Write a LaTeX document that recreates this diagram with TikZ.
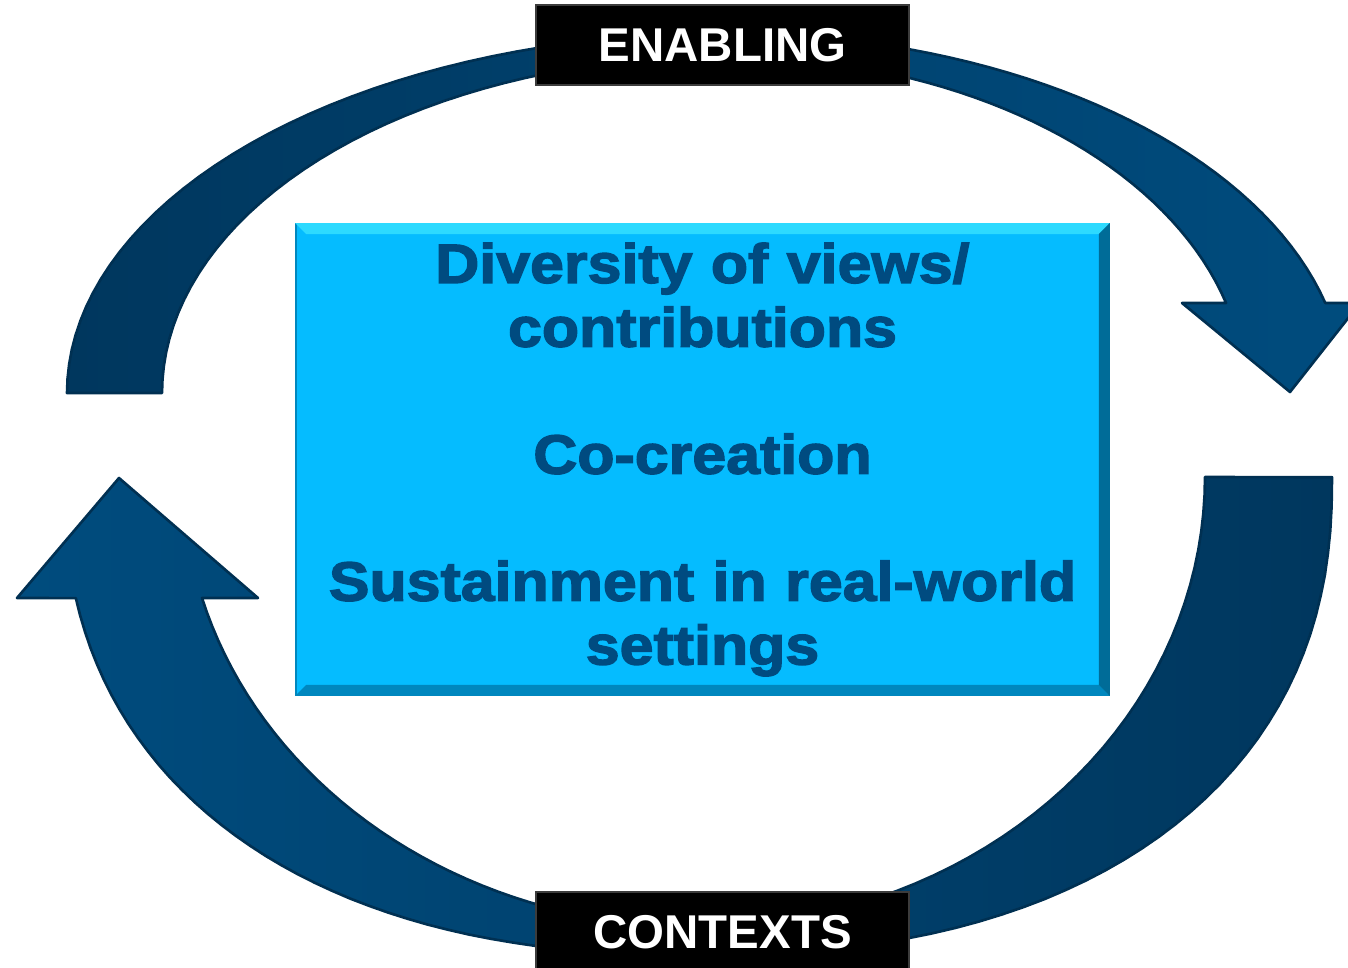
\documentclass[tikz,border=0pt]{standalone}
\usepackage{fontspec}
\usetikzlibrary{positioning}
\newfontfamily\labelfont{Liberation Sans}
\newfontfamily\heavyfont{Liberation Sans}[BoldFeatures={FakeBold=2.5,FakeStretch=1.1}]
\definecolor{arrowdark}{RGB}{0,55,94}
\definecolor{arrowlight}{RGB}{0,76,126}
\definecolor{arrowedge}{RGB}{0,48,82}
\definecolor{boxcyan}{RGB}{5,188,255}
\definecolor{boxlight}{RGB}{45,218,255}
\definecolor{boxdark}{RGB}{0,135,190}
\definecolor{boxtext}{RGB}{0,75,128}
\definecolor{labeledge}{RGB}{60,60,60}

\begin{document}
\begin{tikzpicture}[x=0.02cm, y=-0.02cm,
    bigarrow/.style={draw=arrowedge, line width=1.5pt, line join=round},
    arc40/.style={samples=40, variable=\t},
    centerbox/.style={rectangle, fill=boxcyan, draw=boxdark, line width=1pt, inner sep=0pt,
        minimum width=16.26cm, minimum height=9.42cm, text width=16.26cm, align=center,
        text=boxtext, font=\heavyfont\bfseries\fontsize{31.5}{36.3}\selectfont},
    blacklabel/.style={rectangle, fill=black, draw=labeledge, line width=1pt,
        minimum width=7.45cm, minimum height=1.6cm, text=white,
        font=\labelfont\bfseries\fontsize{27}{32}\selectfont}]

    \useasboundingbox (0,0) rectangle (1348,967);

    % upper arrow, tail on the left
    \path[bigarrow, left color=arrowdark, right color=arrowlight]
        plot[arc40, domain=180:90] ({725+658*cos(\t)}, {393-360*sin(\t)})
        -- plot[arc40, domain=90:14.48] ({725+620*cos(\t)}, {393-360*sin(\t)})
        -- (1360,303) -- (1290,392) -- (1182,303)
        -- plot[arc40, domain=15.49:90] ({725+520*cos(\t)}, {393-337*sin(\t)})
        -- plot[arc40, domain=90:180] ({725+563*cos(\t)}, {393-337*sin(\t)}) -- cycle;

    % lower arrow, tail on the right
    \path[bigarrow, left color=arrowlight, right color=arrowdark]
        plot[arc40, domain=0.01:90] ({698+634*pow(cos(\t),0.8696)}, {477+478*pow(sin(\t),0.8696)})
        -- plot[arc40, domain=90.01:168.11] ({698-634*pow(-cos(\t),0.8696)}, {477+478*pow(sin(\t),0.8696)})
        -- (17,598) -- (119,478) -- (258,598)
        -- plot[arc40, domain=164.4:90] ({698+515*cos(\t)}, {477+450*sin(\t)})
        -- plot[arc40, domain=90:0] ({698+507*cos(\t)}, {477+450*sin(\t)}) -- cycle;

    \node[centerbox] (box) at (702.5,459.5) {Diversity of views/\\contributions\\[36pt]Co-creation\\[36pt]Sustainment in real-world\\settings};

    % bevel of the box
    \fill[boxlight] (box.north west) -- (box.north east) -- ([xshift=-0.22cm,yshift=-0.22cm]box.north east)
        -- ([xshift=0.22cm,yshift=-0.22cm]box.north west) -- cycle;
    \fill[boxdark] (box.south west) -- (box.south east) -- ([xshift=-0.22cm,yshift=0.22cm]box.south east)
        -- ([xshift=0.22cm,yshift=0.22cm]box.south west) -- cycle;
    \fill[boxdark!80!black] (box.north east) -- (box.south east) -- ([xshift=-0.22cm,yshift=0.22cm]box.south east)
        -- ([xshift=-0.22cm,yshift=-0.22cm]box.north east) -- cycle;

    \node[blacklabel, above=2.74cm of box, xshift=0.4cm] (enabling) {ENABLING};
    \node[blacklabel, below=3.9cm of box, xshift=0.4cm] (contexts) {CONTEXTS};

\end{tikzpicture}
\end{document}
